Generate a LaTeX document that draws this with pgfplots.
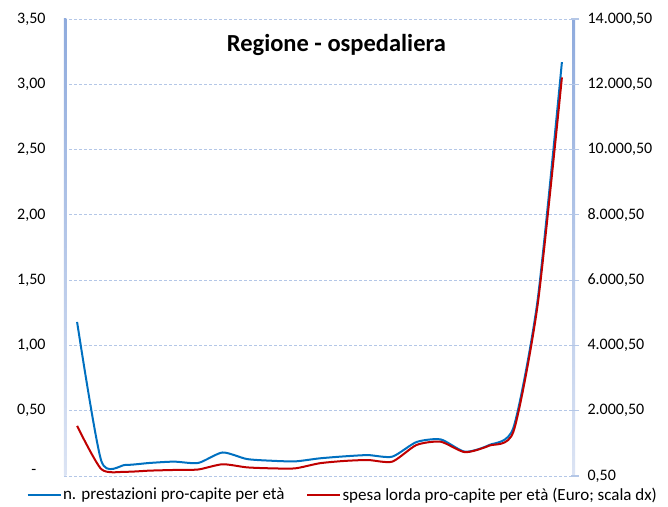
\documentclass[border=0pt]{standalone}
\usepackage{fontspec}
\setmainfont{Carlito}
\usepackage{pgfplots}
\usepackage{pgfplotstable}
\pgfplotsset{compat=1.18}
\definecolor{serblue}{HTML}{0070C0}
\definecolor{serred}{HTML}{C00000}
\definecolor{gridc}{HTML}{B4C7E7}
\definecolor{axtop}{HTML}{8FABDD}
\definecolor{axbot}{HTML}{DCE4F4}
\pgfplotstableread{
x blue red
0 1.18 1535
1 0.115 210
2 0.085 130
3 0.100 165
4 0.110 185
5 0.100 200
6 0.180 360
7 0.130 265
8 0.117 235
9 0.112 235
10 0.135 390
11 0.150 460
12 0.160 490
13 0.148 440
14 0.260 950
15 0.280 1050
16 0.186 730
17 0.237 930
18 0.370 1360
19 1.350 5250
20 3.170 12210
}\datatable
\begin{document}
\begin{tikzpicture}
\pgfplotsset{
  every axis/.style={
    scale only axis, width=511pt, height=457pt,
    xmin=-0.54, xmax=20.54,
    xtick=\empty,
    axis line style={draw=none},
    scaled y ticks=false,
    /pgf/number format/assume math mode=true,
    yticklabel style={font=\fontsize{16}{18}\selectfont},
  }
}
\begin{axis}[
  name=ax,
  ymin=0, ymax=3.5,
  ytick={0,0.5,1,1.5,2,2.5,3,3.5},
  yticklabels={\makebox[14pt][l]{\raisebox{9pt}{-}},{0,50},{1,00},{1,50},{2,00},{2,50},{3,00},{3,50}},
  major tick length=0pt,
  yticklabel style={xshift=-15pt},
  ymajorgrids,
  grid style={gridc, line width=0.8pt, dash pattern=on 3pt off 2pt},
  legend style={at={(0.545,-0.022)}, anchor=north, draw=none, fill=none,
    legend columns=2, font=\fontsize{17}{19}\selectfont,
    /tikz/every even column/.append style={column sep=20pt},
    nodes={inner sep=1.5pt},
    inner sep=0pt},
  legend image code/.code={\draw[#1] (0pt,0pt) -- (33pt,0pt);},
]
\addplot[serblue, line width=2pt, smooth, tension=0.4] table[x=x, y=blue] {\datatable};
\addlegendentry{n. prestazioni pro-capite per età}
\addlegendimage{serred, line width=2pt}
\addlegendentry{spesa lorda pro-capite per età (Euro; scala dx)}
\shade[top color=axtop, bottom color=axbot] ([xshift=-2.5pt]rel axis cs:0,0) rectangle ([xshift=2.5pt]rel axis cs:0,1);
\shade[top color=axtop, bottom color=axbot] ([xshift=-2.5pt]rel axis cs:1,0) rectangle ([xshift=2.5pt]rel axis cs:1,1);
\node[font=\bfseries\fontsize{24.5}{28}\selectfont] at (rel axis cs:0.533,0.943) {Regione - ospedaliera};
\end{axis}
\begin{axis}[
  axis x line=none,
  axis y line*=right,
  ymin=0.5, ymax=14000.5,
  ytick={0.5,2000.5,4000.5,6000.5,8000.5,10000.5,12000.5,14000.5},
  yticklabels={{0,50},{2.000,50},{4.000,50},{6.000,50},{8.000,50},{10.000,50},{12.000,50},{14.000,50}},
  tick align=center,
  major tick length=8pt,
  major tick style={gridc, line width=1.2pt},
  yticklabel style={xshift=5pt},
]
\addplot[serred, line width=2pt, smooth, tension=0.4] table[x=x, y=red] {\datatable};
\end{axis}
\path ([shift={(-64pt,-31pt)}]ax.south west) rectangle ([shift={(93pt,19pt)}]ax.north east);
\end{tikzpicture}
\end{document}
